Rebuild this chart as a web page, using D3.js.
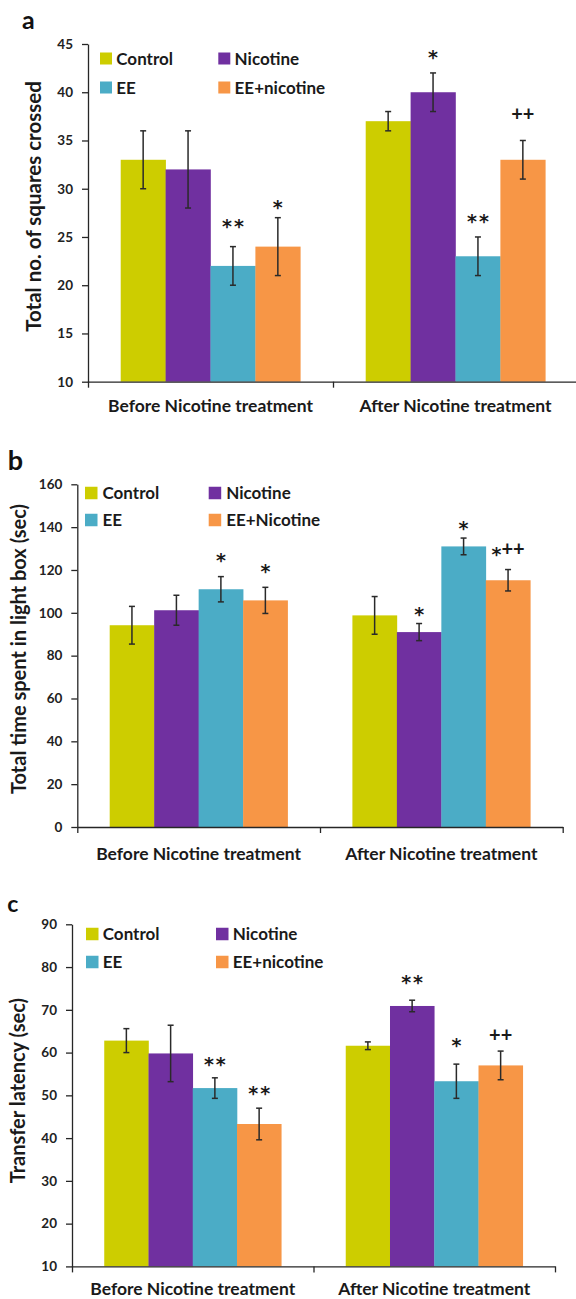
<!DOCTYPE html>
<html><head><meta charset="utf-8">
<script src="https://cdn.jsdelivr.net/npm/d3@7"></script>
<style>
body{margin:0;background:#fff}
svg{display:block}
text{font-family:Lato,"Open Sans",sans-serif}
</style>
</head><body>
<svg id="chart" width="576" height="1299"></svg>
<script>
// ---------- data ----------
const groups = ["Before Nicotine treatment", "After Nicotine treatment"];
const seriesA = ["Control", "Nicotine", "EE", "EE+nicotine"];
const seriesB = ["Control", "Nicotine", "EE", "EE+Nicotine"];
const seriesC = ["Control", "Nicotine", "EE", "EE+nicotine"];

const aMean = [[33, 32, 22, 24], [37, 40, 23, 33]];
const aErr  = [[3, 4, 2, 3], [1, 2, 2, 2]];
const aSig  = [["", "", "**", "*"], ["", "*", "**", "++"]];
const aSigAt = [[0, 0, 26.6, 28.6], [0, 44.1, 27.1, 37.7]];
const aTicks = [10, 15, 20, 25, 30, 35, 40, 45];

const bMean = [[94.2, 101.2, 111, 105.8], [98.8, 91, 131, 115.2]];
const bErr  = [[8.8, 7, 5.9, 6.1], [8.8, 4, 3.9, 5]];
const bSig  = [["", "", "*", "*"], ["", "*", "*", "*++"]];
const bSigAt = [[0, 0, 126.5, 121.8], [0, 101.6, 141.8, 129.7]];
const bTicks = [0, 20, 40, 60, 80, 100, 120, 140, 160];

const cMean = [[62.8, 59.8, 51.7, 43.3], [61.6, 70.9, 53.3, 57]];
const cErr  = [[2.8, 6.6, 2.4, 3.7], [0.9, 1.35, 4, 3.35]];
const cSig  = [["", "", "**", "**"], ["", "**", "*", "++"]];
const cSigAt = [[0, 0, 58.3, 51.65], [0, 77.5, 62.9, 64.1]];
const cTicks = [10, 20, 30, 40, 50, 60, 70, 80, 90];

// ---------- styles ----------
const colors = ["#CDCD00", "#7030A0", "#4BACC6", "#F79646"];
const axisColor = "#262626";

const panels = [
  {letter: "a", title: "Total no. of squares crossed", series: seriesA, mean: aMean, err: aErr,
   sig: aSig, sigAt: aSigAt, ticks: aTicks, domain: [10, 45],
   x0: 88, x1: 578, top: 44, bottom: 381.7,
   letterX: 22, letterY: 29, letterSize: 25, titleX: 41, titleY: 206.5, titleSize: 20.5,
   labelY: 412, legX: [100, 218.3], legY: [58.5, 87.5], sw: 12, legDx: 16.3},
  {letter: "b", title: "Total time spent in light box (sec)", series: seriesB, mean: bMean, err: bErr,
   sig: bSig, sigAt: bSigAt, ticks: bTicks, domain: [0, 160],
   x0: 77.3, x1: 562.7, top: 484.3, bottom: 827,
   letterX: 7.7, letterY: 470, letterSize: 27, titleX: 26, titleY: 649, titleSize: 20,
   labelY: 860, legX: [85, 208.7], legY: [493, 520], sw: 12.5, legDx: 17.5},
  {letter: "c", title: "Transfer latency (sec)", series: seriesC, mean: cMean, err: cErr,
   sig: cSig, sigAt: cSigAt, ticks: cTicks, domain: [10, 90],
   x0: 72, x1: 555, top: 924.3, bottom: 1266.4,
   letterX: 7.3, letterY: 912, letterSize: 23, titleX: 24.5, titleY: 1090.7, titleSize: 20,
   labelY: 1294.5, legX: [86, 216], legY: [934, 962], sw: 12.5, legDx: 16.8}
];

const svg = d3.select("#chart");

panels.forEach(p => {
  const g = svg.append("g");
  const y = d3.scaleLinear().domain(p.domain).range([p.bottom, p.top]);
  const xg = d3.scaleBand().domain(groups).range([p.x0, p.x1])
    .paddingInner(0.267).paddingOuter(0.1335);
  const xs = d3.scaleBand().domain(d3.range(p.series.length)).range([0, xg.bandwidth()]);

  groups.forEach((grp, gi) => {
    const gg = g.append("g").attr("transform", `translate(${xg(grp)},0)`);
    gg.selectAll("rect").data(p.mean[gi]).join("rect")
      .attr("x", (d, i) => xs(i))
      .attr("width", xs.bandwidth() + 0.3)
      .attr("y", d => y(d))
      .attr("height", d => y(p.domain[0]) - y(d))
      .attr("fill", (d, i) => colors[i]);

    p.mean[gi].forEach((m, i) => {
      const cx = xs(i) + xs.bandwidth() / 2;
      const e = p.err[gi][i];
      const eg = gg.append("g").attr("stroke", "#2a2a2a").attr("stroke-width", 1.5);
      eg.append("line").attr("x1", cx).attr("x2", cx).attr("y1", y(m - e)).attr("y2", y(m + e));
      eg.append("line").attr("x1", cx - 3).attr("x2", cx + 3).attr("y1", y(m + e)).attr("y2", y(m + e));
      eg.append("line").attr("x1", cx - 3).attr("x2", cx + 3).attr("y1", y(m - e)).attr("y2", y(m - e));

      const s = p.sig[gi][i];
      if (s) {
        const t = gg.append("text").attr("x", cx).attr("y", y(p.sigAt[gi][i]))
          .attr("text-anchor", "middle").attr("font-weight", 700).attr("fill", "#1a1a1a");
        let prev = 0;
        s.split("").forEach((ch, k) => {
          const star = ch === "*";
          const fs = star ? 19 : 20;
          const off = star ? 0.6 * fs : 0.34 * fs;
          t.append("tspan").attr("dy", off - prev)
            .attr("dx", k > 0 && star && s[k - 1] === "*" ? 2 : 0)
            .attr("font-size", fs)
            .attr("font-family", star ? "'DejaVu Sans'" : "Lato")
            .text(ch);
          prev = off;
        });
      }
    });
  });

  const ya = g.append("g").attr("transform", `translate(${p.x0},0)`)
    .call(d3.axisLeft(y).tickValues(p.ticks).tickSize(6).tickSizeOuter(0).tickPadding(9));
  ya.select(".domain").attr("stroke", axisColor).attr("stroke-width", 1.3);
  ya.selectAll(".tick line").attr("stroke", axisColor).attr("stroke-width", 1.3);
  ya.selectAll(".tick text").attr("font-family", "Lato").attr("font-size", 13.5)
    .attr("font-weight", 700).attr("fill", "#222");

  const xl = d3.scaleLinear().domain([0, groups.length]).range([p.x0, p.x1]);
  const xa = g.append("g").attr("transform", `translate(0,${p.bottom})`)
    .call(d3.axisBottom(xl).tickValues(d3.range(groups.length + 1)).tickSize(6)
      .tickSizeOuter(0).tickFormat(""));
  xa.select(".domain").attr("stroke", axisColor).attr("stroke-width", 1.3);
  xa.selectAll(".tick line").attr("stroke", axisColor).attr("stroke-width", 1.3);

  g.selectAll(".cat").data(groups).join("text").attr("class", "cat")
    .attr("x", d => xg(d) + xg.bandwidth() / 2).attr("y", p.labelY)
    .attr("text-anchor", "middle").attr("font-size", 17.5).attr("font-weight", 700)
    .attr("fill", "#1a1a1a").text(d => d);

  g.append("text").attr("transform", `translate(${p.titleX},${p.titleY}) rotate(-90)`)
    .attr("text-anchor", "middle").attr("font-size", p.titleSize).attr("font-weight", 700)
    .attr("fill", "#1a1a1a").text(p.title);

  g.append("text").attr("x", p.letterX).attr("y", p.letterY)
    .attr("font-size", p.letterSize).attr("font-weight", 700).attr("fill", "#111")
    .text(p.letter);

  p.series.forEach((name, i) => {
    const col = i % 2, row = Math.floor(i / 2);
    const lx = p.legX[col], ly = p.legY[row];
    g.append("rect").attr("x", lx).attr("y", ly - p.sw / 2).attr("width", p.sw).attr("height", p.sw)
      .attr("fill", colors[i]);
    g.append("text").attr("x", lx + p.legDx).attr("y", ly + 6)
      .attr("font-size", 17).attr("font-weight", 700).attr("fill", "#1a1a1a").text(name);
  });
});
</script>
</body></html>
